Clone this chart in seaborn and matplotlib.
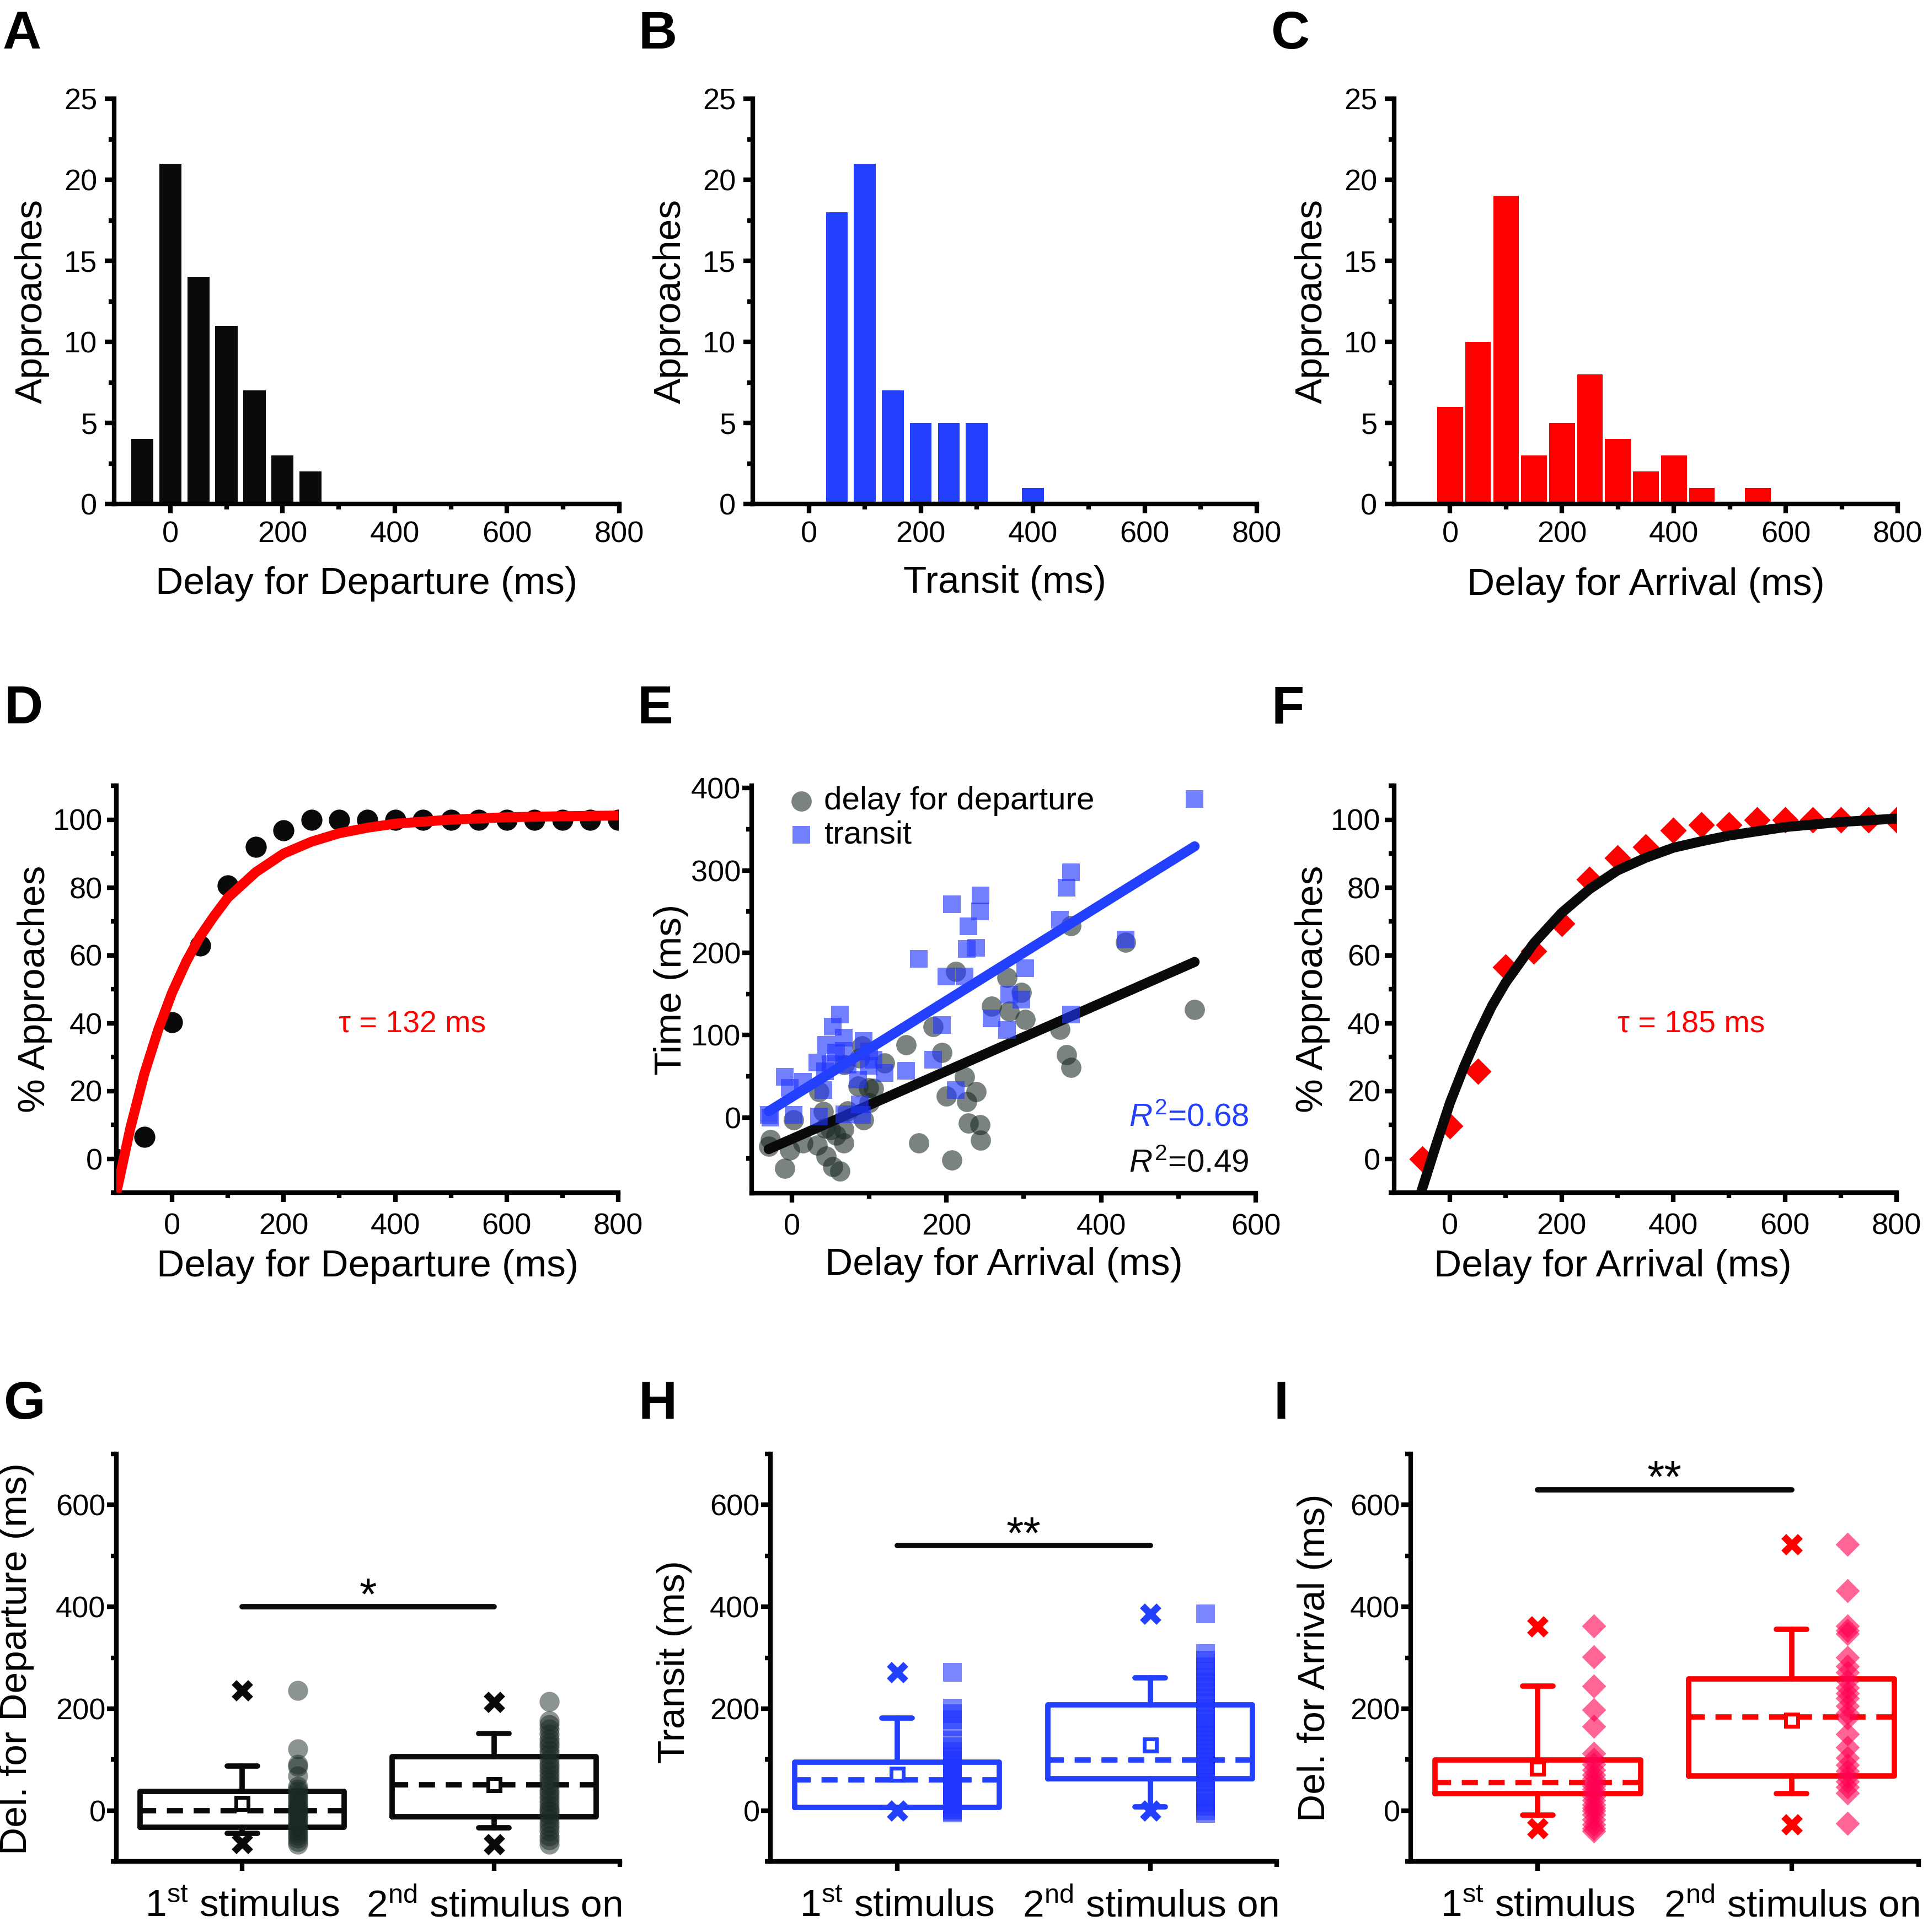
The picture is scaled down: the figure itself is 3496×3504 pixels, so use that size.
"""Nine-panel figure: approach delay histograms, cumulative fits, regression and box plots."""

import matplotlib

matplotlib.use("Agg")  # headless
import matplotlib.pyplot as plt  # noqa: E402
import seaborn as sns  # noqa: E402

W, H, DPI = 3496, 3504, 200

# ---- A-C: histogram counts per 50 ms bin (bin centres) ----
A_centres = [-50, 0, 50, 100, 150, 200, 250]
A_counts = [4, 21, 14, 11, 7, 3, 2]
B_centres = [50, 100, 150, 200, 250, 300, 350, 400]
B_counts = [18, 21, 7, 5, 5, 5, 0, 1]
C_centres = [0, 50, 100, 150, 200, 250, 300, 350, 400, 450, 500, 550]
C_counts = [6, 10, 19, 3, 5, 8, 4, 2, 3, 1, 0, 1]

# ---- D / F: cumulative % of approaches and exponential fit ----
D_x = [-100, -50, 0, 50, 100, 150, 200, 250, 300, 350, 400, 450, 500, 550, 600, 650, 700, 750, 800]
D_pct = [0, 6.5, 40.3, 62.9, 80.6, 91.9, 96.8, 100, 100, 100, 100, 100, 100, 100, 100, 100, 100, 100, 100]
D_fit_x = [-100, -75, -50, -25, 0, 25, 50, 75, 100, 150, 200, 250, 300, 350, 400, 500, 600, 700, 800]
D_fit_y = [-10, 9, 25, 38, 49, 58, 65.5, 71.5, 77, 84.5, 90, 93.5, 96, 97.6, 98.8, 100, 100.7, 101, 101.2]

F_x = [-50, 0, 50, 100, 150, 200, 250, 300, 350, 400, 450, 500, 550, 600, 650, 700, 750, 800]
F_pct = [0, 9.7, 25.8, 56.5, 61.3, 69.4, 82.3, 88.7, 91.9, 96.8, 98.4, 98.4, 100, 100, 100, 100, 100, 100]
F_fit_x = [-52, -25, 0, 25, 50, 75, 100, 150, 200, 250, 300, 350, 400, 450, 500, 600, 700, 800]
F_fit_y = [-10, 4, 16.5, 27, 36.5, 45, 52, 63.5, 72.5, 79.5, 85, 88.7, 91.7, 93.6, 95.3, 97.8, 99.3, 100.3]

# ---- E: per approach (delay for arrival, delay for departure, transit) ----
E_arrival = [521, 432, 361, 355, 347, 361, 302, 297, 278, 281, 258, 244, 243, 238, 228, 226, 223,
             212, 207, 200, 194, 183, 164, 148, 120, 106, 100, 99, 93, 91, 88, 86, 72, 68, 67, 67,
             62, 57, 53, 50, 44, 43, 41, 35, 33, 14, 2, -3, -9, -28, -30]
E_departure = [131, 213, 61, 76, 107, 233, 119, 152, 170, 129, 135, -28, -9, 31, -7, 19, 49,
               177, -52, 26, 79, 110, -31, 88, 66, 35, 18, 36, -3, 87, 72, 38, 8, 64, -14, -31,
               -65, -22, -60, -15, -47, -13, 7, 31, -34, -31, -3, -40, -62, -27, -35]
E_transit = [387, 216, 298, 279, 240, 125, 181, 143, 106, 149, 120, 270, 250, 206, 232, 205, 171,
             33, 259, 171, 112, 70, 193, 57, 54, 70, 80, 63, 93, 3, 16, 46, 64, 4, 81, 97,
             125, 79, 110, 65, 88, 56, 33, 1, 67, 43, 3, 36, 49, 0, 3]

# ---- G-I: box summaries (q1, median, q3), whiskers, means, extremes, and raw points ----
GROUPS = ["1$^{\\mathrm{st}}$ stimulus", "2$^{\\mathrm{nd}}$ stimulus on"]

G_quart = [(-33, 0, 37.5), (-12, 50, 106)]
G_whisk = [(-45, 87), (-34, 151)]
G_mean = [14, 50]
G_ext = [(-64, 236), (-66, 213)]
G_pts1 = [236, 121, 90, 86, 68, 47, 42, 38, 31, 27, 22, 16, 12, 6, 3, 0, -4, -9, -13, -18,
          -24, -28, -33, -38, -44, -49, -55, -61, -66]
G_pts2 = [214, 176, 168, 160, 150, 140, 133, 126, 118, 110, 100, 92, 85, 78, 70, 62, 55, 48,
          40, 33, 26, 18, 10, 3, -2, -8, -16, -24, -32, -40, -50, -58, -66]
G_sig = 400

H_quart = [(6, 60, 95), (62, 99, 207)]
H_whisk = [(6, 182), (7, 261)]
H_mean = [71, 128]
H_ext = [(0, 271), (0, 386)]
H_pts1 = [271, 201, 190, 178, 165, 138, 125, 115, 106, 98, 90, 82, 74, 68, 62, 55, 48, 40,
          33, 25, 18, 12, 6, 2, -1, -5]
H_pts2 = [386, 308, 295, 282, 272, 262, 252, 243, 232, 222, 212, 200, 192, 180, 172, 163, 155,
          147, 138, 130, 121, 113, 104, 96, 88, 80, 72, 64, 56, 45, 35, 25, 16, 8, 0, -6]
H_sig = 520

I_quart = [(33, 55, 99), (68, 184, 258)]
I_whisk = [(-9, 244), (33, 356)]
I_mean = [83, 177]
I_ext = [(-35, 361), (-28, 522)]
I_pts1 = [362, 302, 244, 198, 165, 112, 100, 90, 80, 70, 62, 55, 48, 42, 35, 28, 20, 12, 5,
          0, -8, -18, -28, -35, -40]
I_pts2 = [522, 432, 362, 354, 347, 301, 283, 271, 255, 241, 230, 220, 205, 191, 181, 150, 124,
          103, 89, 78, 67, 57, 46, 34, -25]
I_sig = 630

BLACK, BLUE, RED = "#0a0a0a", "#2340ff", "#ff0000"
GRAY_PT, BLUE_PT, PINK_PT = "#1a2a22", "#2035ff", "#ff0050"

sns.set_style("ticks")
plt.rcParams.update({
    "font.family": ["Liberation Sans", "DejaVu Sans"],
    "mathtext.fontset": "custom",
    "mathtext.rm": "Liberation Sans",
    "mathtext.it": "Liberation Sans:italic",
    "mathtext.bf": "Liberation Sans:bold",
    "axes.linewidth": 3,
    "axes.edgecolor": "black",
    "axes.spines.top": False,
    "axes.spines.right": False,
    "xtick.major.width": 3, "ytick.major.width": 3,
    "xtick.minor.width": 3, "ytick.minor.width": 3,
    "xtick.major.size": 6, "ytick.major.size": 6,
    "xtick.minor.size": 3.5, "ytick.minor.size": 3.5,
    "xtick.direction": "out", "ytick.direction": "out",
    "xtick.color": "black", "ytick.color": "black",
    "xtick.labelsize": 19.5, "ytick.labelsize": 19.5,
    "axes.labelsize": 25,
    "text.color": "black", "axes.labelcolor": "black",
})

fig = plt.figure(figsize=(W / DPI, H / DPI), dpi=DPI)


def add_ax(left, top, right, bottom):
    return fig.add_axes([left / W, 1 - bottom / H, (right - left) / W, (bottom - top) / H])


def labels(ax, xlabel, ylabel, xl=(0.5, -0.195), yl=(-0.163, 0.5)):
    ax.set_xlabel(xlabel)
    ax.set_ylabel(ylabel)
    ax.xaxis.set_label_coords(*xl)
    ax.yaxis.set_label_coords(*yl)
    ax.xaxis.label.set_va("center")
    ax.yaxis.label.set_va("center")


def hist_panel(ax, centres, counts, color, shrink, xlabel, xl):
    sns.histplot(x=centres, weights=counts, binwidth=50,
                 binrange=(centres[0] - 25, centres[-1] + 25), shrink=shrink,
                 color=color, alpha=1, linewidth=0, ax=ax)
    ax.set(xlim=(-100, 800), ylim=(0, 25))
    ax.set_xticks([0, 200, 400, 600, 800])
    ax.set_xticks([100, 300, 500, 700], minor=True)
    ax.set_yticks([0, 5, 10, 15, 20, 25])
    ax.set_yticks([2.5, 7.5, 12.5, 17.5, 22.5], minor=True)
    ax.tick_params(pad=5)
    labels(ax, xlabel, "Approaches", xl=xl)


# ---------------- row 1 ----------------
axA = add_ax(207, 179, 1123, 914)
hist_panel(axA, A_centres, A_counts, BLACK, 0.79, "Delay for Departure (ms)", (0.5, -0.197))
axB = add_ax(1365, 179, 2279, 914)
hist_panel(axB, B_centres, B_counts, BLUE, 0.78, "Transit (ms)", (0.5, -0.195))
axC = add_ax(2528, 179, 3441, 914)
hist_panel(axC, C_centres, C_counts, RED, 0.92, "Delay for Arrival (ms)", (0.5, -0.2))


# ---------------- row 2 ----------------
def cumul_axes(ax):
    ax.set(xlim=(-100, 800), ylim=(-10, 110))
    ax.set_xticks([0, 200, 400, 600, 800])
    ax.set_xticks([100, 300, 500, 700], minor=True)
    ax.set_yticks([0, 20, 40, 60, 80, 100])
    ax.set_yticks([-10, 10, 30, 50, 70, 90, 110], minor=True)
    ax.tick_params(axis="y", pad=3)
    ax.tick_params(axis="x", pad=7)


axD = add_ax(211, 1425, 1121, 2163)
sns.scatterplot(x=D_x, y=D_pct, color=BLACK, s=190, linewidth=0, ax=axD, zorder=2)
sns.lineplot(x=D_fit_x, y=D_fit_y, color=RED, lw=6.5, ax=axD, zorder=3,
             solid_capstyle="round")
axD.text(431, 39.5, "τ = 132 ms", color=RED, fontsize=20, ha="center", va="center")
cumul_axes(axD)
labels(axD, "Delay for Departure (ms)", "% Approaches", xl=(0.5, -0.182))

axE = add_ax(1363, 1425, 2277, 2164)
sns.scatterplot(x=E_arrival, y=E_departure, color=GRAY_PT, alpha=0.58, s=175, linewidth=0,
                ax=axE, zorder=1, label="delay for departure")
sns.regplot(x=E_arrival, y=E_departure, scatter=False, ci=None, ax=axE, color=BLACK,
            line_kws=dict(lw=6.5, solid_capstyle="round", zorder=2))
sns.scatterplot(x=E_arrival, y=E_transit, color=BLUE_PT, alpha=0.63, s=140, marker="s",
                linewidth=0, ax=axE, zorder=2.5, label="transit")
sns.regplot(x=E_arrival, y=E_transit, scatter=False, ci=None, ax=axE, color=BLUE,
            line_kws=dict(lw=6.5, solid_capstyle="round", zorder=3))
axE.set(xlim=(-52, 600), ylim=(-92, 403))
axE.set_xticks([0, 200, 400, 600])
axE.set_xticks([100, 300, 500], minor=True)
axE.set_yticks([0, 100, 200, 300, 400])
axE.set_yticks([-50, 50, 150, 250, 350], minor=True)
axE.tick_params(axis="y", pad=1)
axE.tick_params(axis="x", pad=7)
axE.legend(loc="upper left", bbox_to_anchor=(0.035, 1.03), frameon=False, fontsize=21,
           handletextpad=0.1, labelspacing=0.12, borderaxespad=0, handlelength=1.2)
axE.text(0.986, 0.185, "$R^2$=0.68", color=BLUE, fontsize=21, ha="right", va="center",
         transform=axE.transAxes)
axE.text(0.986, 0.073, "$R^2$=0.49", color=BLACK, fontsize=21, ha="right", va="center",
         transform=axE.transAxes)
labels(axE, "Delay for Arrival (ms)", "Time (ms)", xl=(0.5, -0.176), yl=(-0.16, 0.5))

axF = add_ax(2528, 1425, 3439, 2163)
sns.scatterplot(x=F_x, y=F_pct, color=RED, marker="D", s=150, linewidth=0, ax=axF, zorder=2)
sns.lineplot(x=F_fit_x, y=F_fit_y, color=BLACK, lw=6.5, ax=axF, zorder=3,
             solid_capstyle="round")
axF.text(432, 39.5, "τ = 185 ms", color=RED, fontsize=20, ha="center", va="center")
cumul_axes(axF)
labels(axF, "Delay for Arrival (ms)", "% Approaches", xl=(0.435, -0.182), yl=(-0.162, 0.5))


# ---------------- row 3 ----------------
def box_panel(ax, quart, whisk, mean, ext, pts1, pts2, sig, stars, color, pt_color,
              marker, size, alpha, ylabel, yl):
    stats = []
    for (q1, med, q3), (lo, hi), mu, fl in zip(quart, whisk, mean, ext):
        stats.append(dict(q1=q1, med=med, q3=q3, whislo=lo, whishi=hi, mean=mu, fliers=list(fl)))
    line = dict(color=color, lw=3.5)
    ax.bxp(stats, positions=[0, 1], widths=0.81, capwidths=0.12, showmeans=True,
           manage_ticks=False, boxprops=line, whiskerprops=line, capprops=line,
           medianprops=dict(color=color, lw=3.5, linestyle=(0, (3, 2))),
           meanprops=dict(marker="s", markersize=8, markerfacecolor="white",
                          markeredgecolor=color, markeredgewidth=2.5),
           flierprops=dict(marker="x", markersize=11, markeredgecolor=color,
                           markeredgewidth=4.5))
    for i, pts in enumerate([pts1, pts2]):
        sns.scatterplot(x=[i + 0.22] * len(pts), y=pts, color=pt_color, marker=marker, s=size,
                        alpha=alpha, linewidth=0, ax=ax, zorder=3)
    ax.plot([0, 1], [sig, sig], color=BLACK, lw=3.5, solid_capstyle="round")
    ax.text(0.5, sig - 4, stars, fontsize=29, ha="center", va="baseline")
    ax.set(xlim=(-0.5, 1.5), ylim=(-100, 700))
    ax.set_xticks([0, 1])
    ax.set_xticks([1.5], minor=True)
    ax.set_xticklabels(GROUPS, fontsize=25)
    ax.set_yticks([0, 200, 400, 600])
    ax.set_yticks([-100, 100, 300, 500, 700], minor=True)
    ax.tick_params(axis="x", pad=12)
    ax.tick_params(axis="y", pad=1)
    ax.set_ylabel(ylabel)
    ax.yaxis.set_label_coords(*yl)
    ax.yaxis.label.set_va("center")


axG = add_ax(211, 2637, 1124, 3376)
box_panel(axG, G_quart, G_whisk, G_mean, G_ext, G_pts1, G_pts2, G_sig, "*", BLACK, GRAY_PT,
          "o", 170, 0.5, "Del. for Departure (ms)", (-0.198, 0.497))
axH = add_ax(1397, 2637, 2315, 3376)
box_panel(axH, H_quart, H_whisk, H_mean, H_ext, H_pts1, H_pts2, H_sig, "**", BLUE, BLUE_PT,
          "s", 150, 0.6, "Transit (ms)", (-0.19, 0.49))
axI = add_ax(2558, 2637, 3479, 3376)
box_panel(axI, I_quart, I_whisk, I_mean, I_ext, I_pts1, I_pts2, I_sig, "**", RED, PINK_PT,
          "D", 125, 0.6, "Del. for Arrival (ms)", (-0.189, 0.5))

# panel letters
for letter, x, y in [("A", 5, 18), ("B", 1157, 18), ("C", 2305, 18),
                     ("D", 7, 1242), ("E", 1155, 1242), ("F", 2305, 1242),
                     ("G", 7, 2503), ("H", 1158, 2503), ("I", 2310, 2503)]:
    fig.text(x / W, 1 - y / H, letter, fontsize=35, fontweight="bold", ha="left", va="top")

fig.savefig("out.png", dpi=DPI)
